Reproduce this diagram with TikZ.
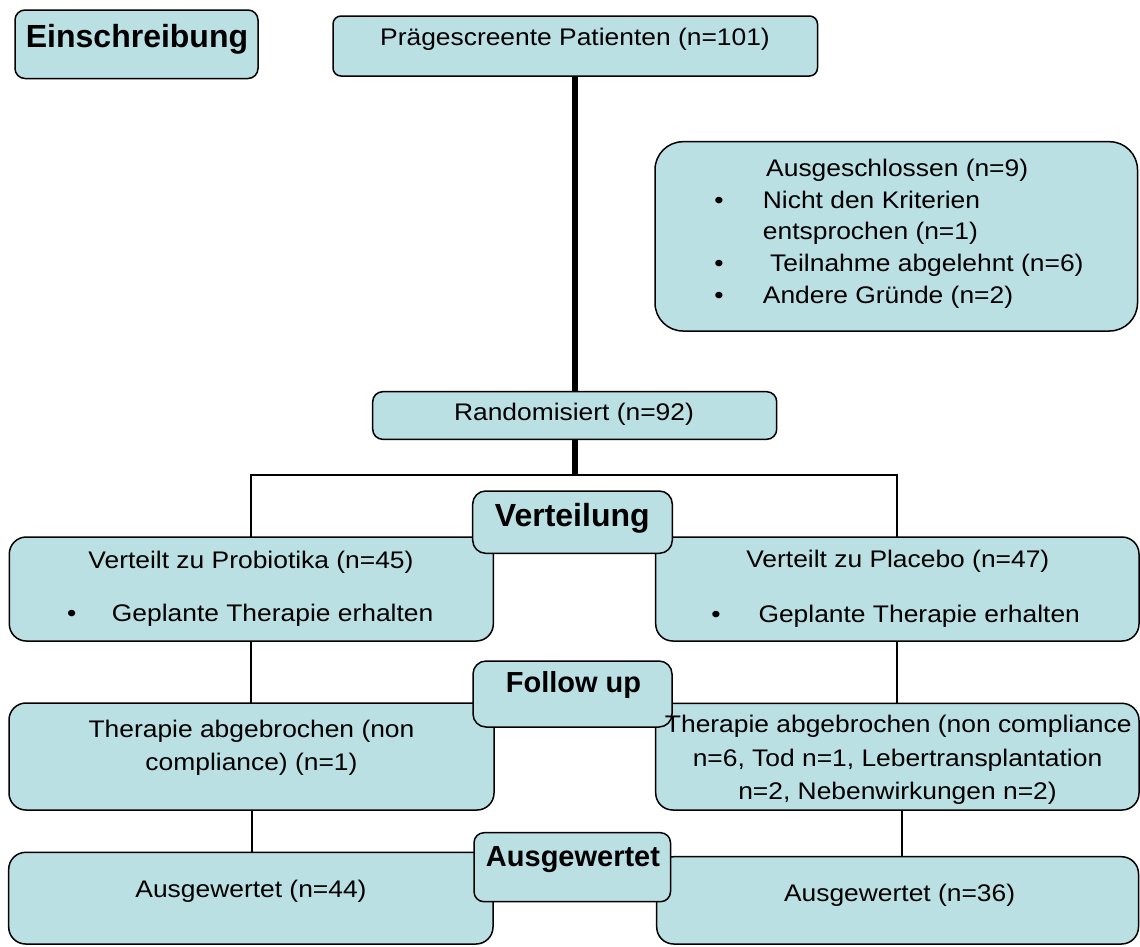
\documentclass[tikz,border=0pt]{standalone}
\usepackage{fontspec}
\setmainfont{Liberation Sans}
\definecolor{boxfill}{RGB}{186,224,228}
\newcommand\mybox[6]{\node[box, rounded corners=#6pt, minimum width={#4-#2}, minimum height={#5-#3}] (#1) at ({(#2+#4)/2},{(#3+#5)/2}) {};}
\begin{document}
\begin{tikzpicture}[x=1pt,y=-1pt,
  box/.style={draw=black, line width=1.5pt, fill=boxfill, rectangle, inner sep=0pt, outer sep=0pt},
  txt/.style={inner sep=0pt, anchor=base, font=\fontsize{24}{29}\selectfont, xscale=1.1, transform shape},
  txtl/.style={txt, anchor=base west},
  lbl/.style={inner sep=0pt, anchor=base, font=\bfseries\fontsize{32}{38}\selectfont},
  lblsmall/.style={lbl, font=\bfseries\fontsize{29}{35}\selectfont},
  thickconn/.style={line width=6pt},
  conn/.style={line width=2pt}]
\useasboundingbox (0,0) rectangle (1140,946);
% main boxes
\mybox{ein}{15}{10}{258}{78.5}{10}
\mybox{pre}{333}{16}{817.5}{76}{8}
\mybox{excl}{655}{141.7}{1137.5}{331}{28}
\mybox{rand}{372.7}{391.7}{776.7}{439.3}{10}
\mybox{prob}{9.3}{537}{493.3}{641}{17}
\mybox{plac}{655.7}{537}{1139}{641}{17}
\mybox{thl}{9}{703}{494}{810}{17}
\mybox{thr}{655.7}{703.3}{1139}{810}{17}
\mybox{ausl}{8.7}{852.3}{493}{944}{17}
\mybox{ausr}{656.7}{856.7}{1138.5}{944}{17}
% connectors
\coordinate (j) at (575,475);
\draw[thickconn] (pre.south) -- (pre.south |- rand.north);
\draw[thickconn] (j |- rand.south) -- ([yshift=-1pt]j);
\draw[conn] (prob.north) -- (prob.north |- j) -- (plac.north |- j) -- (plac.north);
\draw[conn] (prob.south) -- (prob.south |- thl.north);
\draw[conn] (plac.south) -- (plac.south |- thr.north);
\draw[conn] (thl.south) -- (thl.south |- ausl.north);
\draw[conn] ([xshift=4.5pt]thr.south) -- ([xshift=4.5pt]thr.south |- ausr.north);
% label boxes
\mybox{vert}{472.7}{491}{672.3}{553.3}{13}
\mybox{fol}{473}{661}{672}{727}{13}
\mybox{ausw}{474}{832.7}{670.5}{901.7}{10}
% texts
\node[lbl] (tein) at (137,47) {Einschreibung};
\node[txt] (tpre) at (575,45) {Prägescreente Patienten (n=101)};
\node[txtl] (ex0) at (766,176.7) {Ausgeschlossen (n=9)};
\node[txt] (b1) at (719,208.3) {•};
\node[txtl] (ex1) at (762.7,208.3) {Nicht den Kriterien};
\node[txtl] (ex2) at (762.7,239.3) {entsprochen (n=1)};
\node[txt] (b2) at (719,271.7) {•};
\node[txtl] (ex3) at (770,271.7) {Teilnahme abgelehnt (n=6)};
\node[txt] (b3) at (719,303.3) {•};
\node[txtl] (ex4) at (762.7,303.3) {Andere Gründe (n=2)};
\node[txt] (trand) at (574,420.7) {Randomisiert (n=92)};
\node[lbl] (tvert) at (572.3,526.7) {Verteilung};
\node[txt] (tprob) at (251,568.3) {Verteilt zu Probiotika (n=45)};
\node[txt] (b4) at (71.7,621.7) {•};
\node[txtl] (tprob2) at (111.7,621.7) {Geplante Therapie erhalten};
\node[txt] (tplac) at (897.8,567.3) {Verteilt zu Placebo (n=47)};
\node[txt] (b5) at (716,622.7) {•};
\node[txtl] (tplac2) at (758.3,622.7) {Geplante Therapie erhalten};
\node[lblsmall] (tfol) at (573.5,692) {Follow up};
\node[txt] (thl1) at (251.5,737.3) {Therapie abgebrochen (non};
\node[txt] (thl2) at (251.5,770) {compliance) (n=1)};
\node[txt] (thr1) at (898.3,732.7) {Therapie abgebrochen (non compliance};
\node[txt] (thr2) at (897.5,766) {n=6, Tod n=1, Lebertransplantation};
\node[txt] (thr3) at (897.5,799.3) {n=2, Nebenwirkungen n=2)};
\node[lblsmall] (tausw) at (573,866) {Ausgewertet};
\node[txt] (tal) at (251,897.3) {Ausgewertet (n=44)};
\node[txt] (tar) at (899.6,901.7) {Ausgewertet (n=36)};
\end{tikzpicture}
\end{document}
